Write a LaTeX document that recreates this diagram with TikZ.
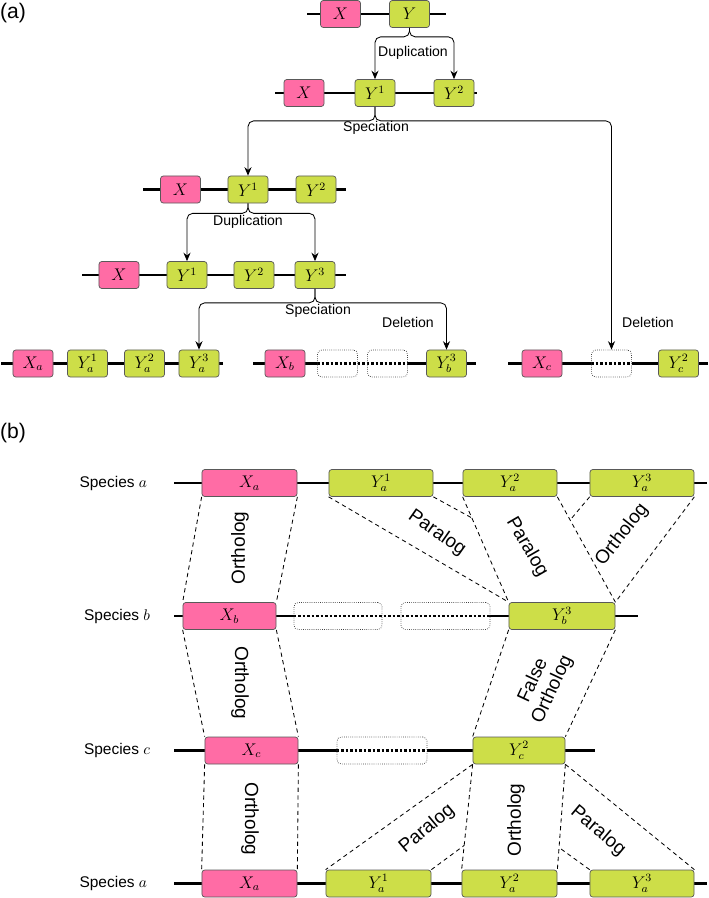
\documentclass[tikz,border=0pt]{standalone}
\usepackage{fontspec}
\setmainfont{Liberation Sans}
\usetikzlibrary{arrows.meta,calc,backgrounds}
\definecolor{genepink}{RGB}{255,108,165}
\definecolor{genelime}{RGB}{205,222,72}
\tikzset{
  gene/.style={draw=black!65, line width=0.5pt, rounded corners=2pt, inner sep=0pt,
    minimum width=1cm, minimum height=0.675cm, font=\fontsize{12}{14}\selectfont},
  xgene/.style={gene, fill=genepink},
  ygene/.style={gene, fill=genelime},
  lost/.style={draw=black!75, densely dotted, line width=0.5pt, rounded corners=3pt,
    inner sep=0pt, minimum width=1cm, minimum height=0.675cm},
  chrom/.style={line width=2pt},
  gap/.style={line width=2pt, dash pattern=on 2pt off 1.2pt},
  split/.style={->, line width=0.6pt, rounded corners=4pt},
  band/.style={dash pattern=on 3pt off 2.5pt, line width=0.6pt},
  evt/.style={font=\fontsize{10}{12}\selectfont, inner sep=1pt},
  rel/.style={font=\fontsize{13.5}{15}\selectfont, inner sep=1pt, align=center},
  sp/.style={font=\fontsize{11}{13}\selectfont, anchor=east},
  panel/.style={font=\fontsize{15}{17}\selectfont}
}
\begin{document}
\begin{tikzpicture}[x=0.025cm, y=-0.025cm, >={Stealth[length=6pt,width=5pt]}]
  \useasboundingbox (0,0) rectangle (708,898);

  % ---------------- (a) ----------------
  \node[panel] (pa) at (13,13) {(a)};

  % ancestor
  \node[xgene] (a1X) at (340.5,14) {$X$};
  \node[ygene] (a1Y) at (409.5,14) {$Y$};
  \coordinate (a1L) at (307,14);  \coordinate (a1R) at (446,14);

  % after first duplication
  \node[xgene] (a2X)  at (304,93) {$X$};
  \node[ygene] (a2Y1) at (375,93) {$Y^1$};
  \node[ygene] (a2Y2) at (454,93) {$Y^2$};
  \coordinate (a2L) at (275,93);  \coordinate (a2R) at (477,93);

  % after first speciation
  \node[xgene] (a3X)  at (180.5,189.5) {$X$};
  \node[ygene] (a3Y1) at (248,189.5) {$Y^1$};
  \node[ygene] (a3Y2) at (316,189.5) {$Y^2$};
  \coordinate (a3L) at (143,189.5);  \coordinate (a3R) at (346,189.5);

  % after second duplication
  \node[xgene] (a4X)  at (119,275) {$X$};
  \node[ygene] (a4Y1) at (187,275) {$Y^1$};
  \node[ygene] (a4Y2) at (254,275) {$Y^2$};
  \node[ygene] (a4Y3) at (315,275) {$Y^3$};
  \coordinate (a4L) at (82,275);  \coordinate (a4R) at (346,275);

  % present species
  \node[xgene] (a5aX)  at (33,363.5)    {$X_a$};
  \node[ygene] (a5aY1) at (87.5,363.5)  {$Y_a^1$};
  \node[ygene] (a5aY2) at (144.5,363.5) {$Y_a^2$};
  \node[ygene] (a5aY3) at (199,363.5)   {$Y_a^3$};
  \coordinate (a5aL) at (1,363.5);  \coordinate (a5aR) at (223,363.5);

  \node[xgene] (a5bX)  at (285,363.5)   {$X_b$};
  \node[lost]  (a5bD1) at (337.5,363.5) {};
  \node[lost]  (a5bD2) at (387.5,363.5) {};
  \node[ygene] (a5bY3) at (446.5,363.5) {$Y_b^3$};
  \coordinate (a5bL) at (253,363.5);  \coordinate (a5bR) at (476,363.5);

  \node[xgene] (a5cX)  at (542,363.5)   {$X_c$};
  \node[lost]  (a5cD)  at (611.5,363.5) {};
  \node[ygene] (a5cY2) at (678.5,363.5) {$Y_c^2$};
  \coordinate (a5cL) at (508,363.5);  \coordinate (a5cR) at (708,363.5);

  % events
  \draw[split] (a1Y.south) -- ++(0,9) -| (a2Y1.north);
  \draw[split] (a1Y.south) -- ++(0,9) -| (a2Y2.north);
  \draw[split] (a2Y1.south) -- ++(0,14) -| (a3Y1.north);
  \draw[split] (a2Y1.south) -- ++(0,14) -| (a5cD.north);
  \draw[split] (a3Y1.south) -- ++(0,10) -| (a4Y1.north);
  \draw[split] (a3Y1.south) -- ++(0,10) -| (a4Y3.north);
  \draw[split] (a4Y3.south) -- ++(0,14) -| (a5aY3.north);
  \draw[split] (a4Y3.south) -- ++(0,14) -| (a5bY3.north);

  \node[evt] (dup1) at (413,53)  {Duplication};
  \node[evt] (spc1) at (376,128) {Speciation};
  \node[evt] (dup2) at (248,222) {Duplication};
  \node[evt] (spc2) at (318,311) {Speciation};
  \node[evt] (del1) at (408,322) {Deletion};
  \node[evt] (del2) at (648,322) {Deletion};

  % ---------------- (b) ----------------
  \node[panel] (pb) at (13,433) {(b)};

  % species a
  \node[sp] (spA) at (152,483) {Species $a$};
  \node[xgene, minimum width=2.375cm] (bAX)  at (249.5,483) {$X_a$};
  \node[ygene, minimum width=2.6cm]   (bAY1) at (381,483)   {$Y_a^1$};
  \node[ygene, minimum width=2.35cm]  (bAY2) at (510,483)   {$Y_a^2$};
  \node[ygene, minimum width=2.6cm]   (bAY3) at (642,483)   {$Y_a^3$};
  \coordinate (bAL) at (174,483);  \coordinate (bAR) at (707,483);

  % species b
  \node[sp] (spB) at (155,616) {Species $b$};
  \node[xgene, minimum width=2.325cm] (bBX)  at (229.5,616) {$X_b$};
  \node[lost, minimum width=2.2cm]    (bBD1) at (338,616)   {};
  \node[lost, minimum width=2.225cm]  (bBD2) at (445.5,616) {};
  \node[ygene, minimum width=2.65cm]  (bBY3) at (562,616)   {$Y_b^3$};
  \coordinate (bBL) at (174,616);  \coordinate (bBR) at (638,616);

  % species c
  \node[sp] (spC) at (155,750.5) {Species $c$};
  \node[xgene, minimum width=2.325cm] (bCX)  at (251.5,750.5) {$X_c$};
  \node[lost, minimum width=2.25cm]   (bCD)  at (382,750.5)   {};
  \node[ygene, minimum width=2.3cm]   (bCY2) at (519,750.5)   {$Y_c^2$};
  \coordinate (bCL) at (174,750.5);  \coordinate (bCR) at (595,750.5);

  % species a again
  \node[sp] (spD) at (152,883.5) {Species $a$};
  \node[xgene, minimum width=2.375cm] (bDX)  at (249.5,883.5) {$X_a$};
  \node[ygene, minimum width=2.625cm] (bDY1) at (378.5,883.5) {$Y_a^1$};
  \node[ygene, minimum width=2.375cm] (bDY2) at (509.5,883.5) {$Y_a^2$};
  \node[ygene, minimum width=2.6cm]   (bDY3) at (642,883.5)   {$Y_a^3$};
  \coordinate (bDL) at (174,883.5);  \coordinate (bDR) at (707,883.5);

  % a -> b
  \draw[band] (bAX.south west) -- (bBX.north west);
  \draw[band] (bAX.south east) -- (bBX.north east);
  \draw[band] (bAY1.south west) -- (bBY3.north west);
  \draw[band] (bAY1.south east) -- ($(bAY2.south west)!0.2!(bBY3.north west)$);
  \draw[band] (bAY2.south west) -- (bBY3.north west);
  \draw[band] (bAY2.south east) -- (bBY3.north east);
  \draw[band] (bAY3.south west) -- ($(bAY2.south east)!0.22!(bBY3.north east)$);
  \draw[band] (bAY3.south east) -- (bBY3.north east);
  \node[rel, rotate=90]  (oAB1) at (240,548) {Ortholog};
  \node[rel, rotate=-35] (pAB1) at (437,533) {Paralog};
  \node[rel, rotate=-60] (pAB2) at (527,547) {Paralog};
  \node[rel, rotate=52]  (oAB2) at (622,535) {Ortholog};

  % b -> c
  \draw[band] (bBX.south west) -- (bCX.north west);
  \draw[band] (bBX.south east) -- (bCX.north east);
  \draw[band] (bBY3.south west) -- (bCY2.north west);
  \draw[band] (bBY3.south east) -- (bCY2.north east);
  \node[rel, rotate=-90] (oBC1) at (240,683) {Ortholog};
  \node[rel, rotate=65]  (fBC2) at (543,685) {False\\Ortholog};

  % c -> a
  \draw[band] (bCX.south west) -- (bDX.north west);
  \draw[band] (bCX.south east) -- (bDX.north east);
  \draw[band] (bCY2.south west) -- (bDY1.north west);
  \draw[band] (bDY1.north east) -- ($(bCY2.south west)!0.77!(bDY2.north west)$);
  \draw[band] (bCY2.south west) -- (bDY2.north west);
  \draw[band] (bCY2.south east) -- (bDY2.north east);
  \draw[band] (bDY3.north west) -- ($(bCY2.south east)!0.79!(bDY2.north east)$);
  \draw[band] (bCY2.south east) -- (bDY3.north east);
  \node[rel, rotate=-90] (oCD1) at (250,819) {Ortholog};
  \node[rel, rotate=40]  (pCD1) at (427,829) {Paralog};
  \node[rel, rotate=90]  (oCD2) at (516,820) {Ortholog};
  \node[rel, rotate=-40] (pCD2) at (598,831) {Paralog};

  % chromosomes
  \begin{pgfonlayer}{background}
    \draw[chrom] (a1L) -- (a1R);
    \draw[chrom] (a2L) -- (a2R);
    \draw[chrom] (a3L) -- (a3R);
    \draw[chrom] (a4L) -- (a4R);
    \draw[chrom] (a5aL) -- (a5aR);
    \draw[chrom] (a5bL) -- (a5bD1.west) (a5bD2.east) -- (a5bR);
    \draw[gap] (a5bD1.west) -- (a5bD2.east);
    \draw[chrom] (a5cL) -- (a5cD.west) (a5cD.east) -- (a5cR);
    \draw[gap] (a5cD.west) -- (a5cD.east);
    \draw[chrom] (bAL) -- (bAR);
    \draw[chrom] (bBL) -- (bBD1.west) (bBD2.east) -- (bBR);
    \draw[gap] (bBD1.west) -- (bBD2.east);
    \draw[chrom] (bCL) -- (bCD.west) (bCD.east) -- (bCR);
    \draw[gap] (bCD.west) -- (bCD.east);
    \draw[chrom] (bDL) -- (bDR);
  \end{pgfonlayer}
\end{tikzpicture}
\end{document}
